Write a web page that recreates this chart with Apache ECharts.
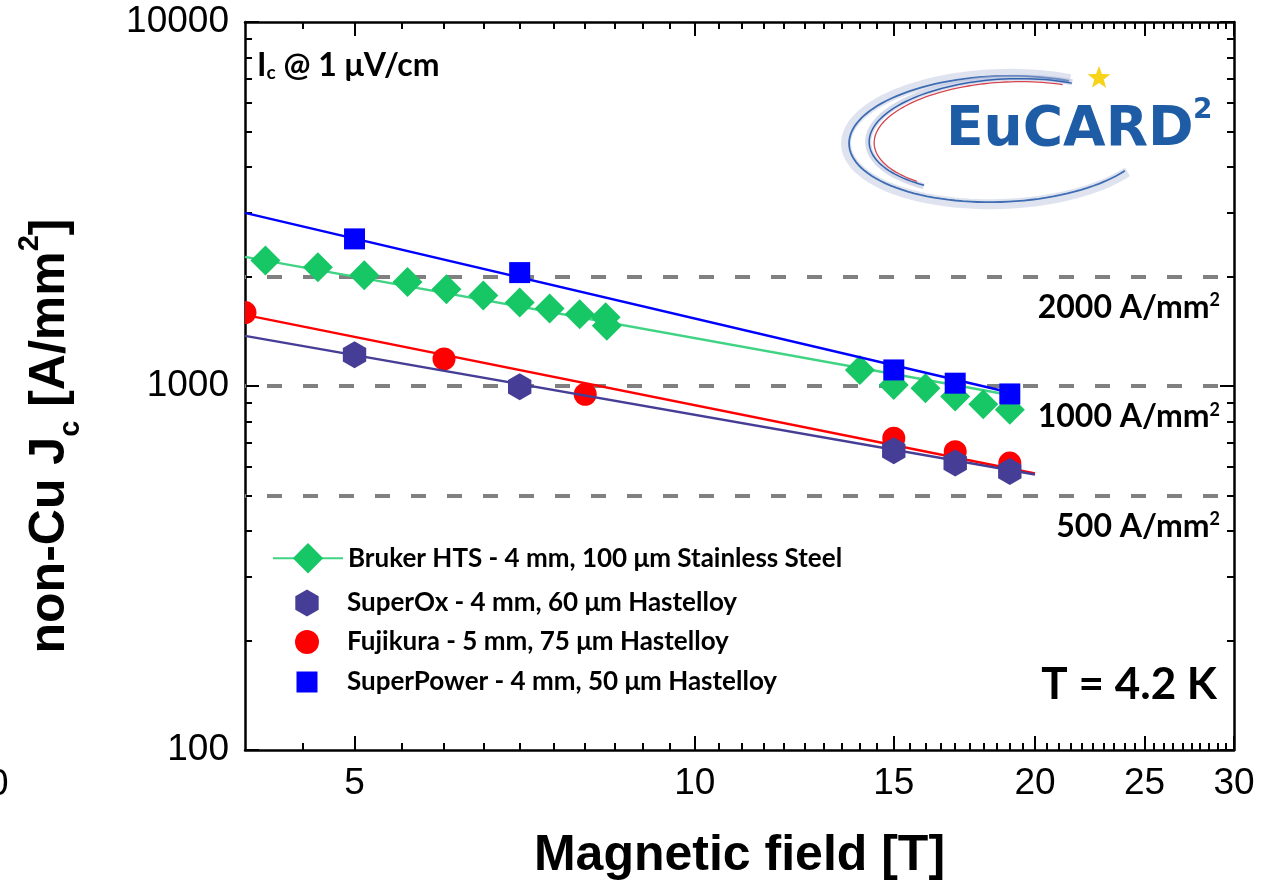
<!DOCTYPE html>
<html><head><meta charset="utf-8">
<script src="https://cdn.jsdelivr.net/npm/echarts@6/dist/echarts.min.js"></script>
<style>html,body{margin:0;padding:0;background:#fff}#c{width:1279px;height:893px}</style>
</head><body><div id="c"></div>
<script>
// ---- series names ----
const BRUKER = 'Bruker HTS - 4 mm, 100 \u03bcm Stainless Steel';
const SUPEROX = 'SuperOx - 4 mm, 60 \u03bcm Hastelloy';
const FUJI = 'Fujikura - 5 mm, 75 \u03bcm Hastelloy';
const SUPERPOWER = 'SuperPower - 4 mm, 50 \u03bcm Hastelloy';

// ---- measured points (field in T, non-Cu Jc in A/mm2) ----
const brukerField = [4.17, 4.64, 5.10, 5.57, 6.03, 6.50, 7.00, 7.44, 7.91, 8.34, 8.36, 14.0, 15.0, 16.0, 17.0, 18.0, 19.0];
const brukerJc    = [2211, 2121, 2016, 1932, 1845, 1772, 1695, 1632, 1575, 1546, 1463, 1107, 1007, 986, 935, 891, 860];
const superOxField = [5, 7, 15, 17, 19];
const superOxJc    = [1218, 996, 664, 614, 582];
const fujiField = [4, 6, 8, 15, 17, 19];
const fujiJc    = [1591, 1187, 949, 719, 660, 614];
const superPowerField = [5, 7, 15, 17, 19];
const superPowerJc    = [2536, 2049, 1107, 1018, 951];

// ---- fit lines (end points) ----
const brukerFitField = [4, 19];
const brukerFitJc    = [2263, 945];
const superPowerFitField = [4, 19];
const superPowerFitJc    = [2990, 960];
const fujiFitField = [4, 20];
const fujiFitJc    = [1568, 575];
const superOxFitField = [4, 20];
const superOxFitJc    = [1373, 571];

// ---- reference levels ----
const refLevels = [2000, 1000, 500];

// ---- ticks ----
const xMajor = [5, 10, 15, 20, 25, 30];
const xMinor = [4.5, 5.5, 6, 6.5, 7, 7.5, 8, 8.5, 9, 9.5, 10.5, 11, 11.5, 12, 12.5, 13, 13.5, 14, 14.5,
  15.5, 16, 16.5, 17, 17.5, 18, 18.5, 19, 19.5, 20.5, 21, 21.5, 22, 22.5, 23, 23.5, 24, 24.5,
  25.5, 26, 26.5, 27, 27.5, 28, 28.5, 29, 29.5];
const yMajor = [100, 1000, 10000];
const yMinor = [200, 300, 400, 500, 600, 700, 800, 900, 2000, 3000, 4000, 5000, 6000, 7000, 8000, 9000];

function pairs(xs, ys) { return xs.map((x, i) => [x, ys[i]]); }

const TICKFONT = {color: '#000', fontFamily: 'Liberation Sans', fontSize: 37};
const TITLEFONT = 'Liberation Sans';
const ANNOFONT = 'Lato';

function axisBase(kind, pos, ticks, len, showLine) {
  const a = {
    type: 'log', logBase: 10, position: pos,
    axisLine: {show: showLine, onZero: false, lineStyle: {color: '#000', width: 2.5}},
    axisTick: {show: true, inside: true, length: len, customValues: ticks, lineStyle: {color: '#000', width: 2}},
    axisLabel: {show: false},
    splitLine: {show: false}, minorTick: {show: false}, minorSplitLine: {show: false},
    silent: true, axisPointer: {show: false}
  };
  if (kind === 'x') { a.min = 4; a.max = 30; } else { a.min = 100; a.max = 10000; }
  return a;
}

const xMain = axisBase('x', 'bottom', xMajor, 14, true);
xMain.axisLabel = Object.assign({show: true, customValues: xMajor, margin: 15, formatter: v => String(v)}, TICKFONT);
xMain.name = 'Magnetic field [T]';
xMain.nameLocation = 'middle';
xMain.nameGap = 81;
xMain.nameTextStyle = {color: '#000', fontFamily: TITLEFONT, fontWeight: 'bold', fontSize: 50};

const yMain = axisBase('y', 'left', yMajor, 14, true);
yMain.axisLabel = Object.assign({show: true, customValues: yMajor, margin: 16, formatter: v => String(v)}, TICKFONT);
yMain.name = 'non-Cu J{sub|c} [A/mm{sup|2}]';
yMain.nameLocation = 'middle';
yMain.nameGap = 160;
yMain.nameTextStyle = {
  color: '#000', fontFamily: TITLEFONT, fontWeight: 'bold', fontSize: 50, lineHeight: 70,
  padding: [0, 100, 0, 0],
  rich: {
    sub: {fontFamily: TITLEFONT, fontWeight: 'bold', fontSize: 29, lineHeight: 29, verticalAlign: 'bottom', color: '#000'},
    sup: {fontFamily: TITLEFONT, fontWeight: 'bold', fontSize: 29, lineHeight: 29, verticalAlign: 'top', color: '#000'}
  }
};

const legendText = {color: '#000', fontFamily: ANNOFONT, fontWeight: 'bold', fontSize: 26};
function legendFor(name, icon, left, top, h) {
  const item = icon ? {name: name, icon: icon} : {name: name};
  return {
    data: [item], left: left, top: top, orient: 'vertical', padding: 0,
    itemWidth: 70, itemHeight: h, selectedMode: false, symbolKeepAspect: true,
    textStyle: legendText
  };
}

function ellipseArc(cx, cy, rx, ry, rotDeg, t0, t1, n) {
  const pts = [];
  const r = rotDeg * Math.PI / 180;
  for (let i = 0; i <= n; i++) {
    const t = (t0 + (t1 - t0) * i / n) * Math.PI / 180;
    const ex = rx * Math.cos(t), ey = ry * Math.sin(t);
    pts.push([cx + ex * Math.cos(r) - ey * Math.sin(r), cy + ex * Math.sin(r) + ey * Math.cos(r)]);
  }
  return pts;
}
function starPts(cx, cy, ro, ri) {
  const pts = [];
  for (let i = 0; i < 10; i++) {
    const a = -Math.PI / 2 + i * Math.PI / 5;
    const rr = i % 2 === 0 ? ro : ri;
    pts.push([cx + rr * Math.cos(a), cy + rr * Math.sin(a)]);
  }
  return pts;
}

const HEX = 'path://M0,-1L0.866,-0.5L0.866,0.5L0,1L-0.866,0.5L-0.866,-0.5Z';
const SQUARE = 'path://M-1,-1L1,-1L1,1L-1,1Z';

const option = {
  animation: false,
  backgroundColor: '#fff',
  grid: {left: 245, right: 45, top: 22, bottom: 143, containLabel: false, outerBoundsMode: 'none'},
  xAxis: [
    xMain,
    axisBase('x', 'bottom', xMinor, 7, false),
    axisBase('x', 'top', xMajor, 14, true),
    axisBase('x', 'top', xMinor, 7, false)
  ],
  yAxis: [
    yMain,
    axisBase('y', 'left', yMinor, 7, false),
    axisBase('y', 'right', yMajor, 14, true),
    axisBase('y', 'right', yMinor, 7, false)
  ],
  legend: [
    legendFor(BRUKER, null, 272, 543, 38),
    legendFor(SUPEROX, HEX, 295.3, 589.5, 27),
    legendFor(FUJI, 'circle', 295, 629, 24),
    legendFor(SUPERPOWER, SQUARE, 296.5, 669, 21)
  ],
  series: [
    {
      type: 'line', name: BRUKER, data: pairs(brukerFitField, brukerFitJc),
      showSymbol: false, symbol: 'diamond', silent: true, z: 2,
      lineStyle: {color: '#3fd383', width: 2.5}, itemStyle: {color: '#17c766'},
      markLine: {
        silent: true, symbol: ['none', 'none'], z: 1, animation: false,
        lineStyle: {color: '#808080', width: 4, type: [15, 21], dashOffset: 14},
        label: {
          show: true, position: 'insideEndBottom', distance: [14, 15],
          formatter: p => p.value + ' A/mm{sup|2}',
          color: '#000', fontFamily: ANNOFONT, fontWeight: 'bold', fontSize: 32,
          rich: {sup: {fontFamily: ANNOFONT, fontWeight: 'bold', fontSize: 18, verticalAlign: 'top', color: '#000'}}
        },
        emphasis: {disabled: true},
        data: refLevels.map(v => ({yAxis: v}))
      }
    },
    {
      type: 'scatter', name: BRUKER, data: pairs(brukerField, brukerJc), silent: true, z: 3,
      symbol: 'diamond', symbolSize: 30, itemStyle: {color: '#17c766', opacity: 1}
    },
    {
      type: 'line', name: 'SuperPower fit', data: pairs(superPowerFitField, superPowerFitJc),
      showSymbol: false, silent: true, z: 4, lineStyle: {color: '#0000ff', width: 2.5}, itemStyle: {color: '#0000ff'}
    },
    {
      type: 'custom', name: FUJI, data: pairs(fujiField, fujiJc), clip: true, silent: true, z: 5,
      itemStyle: {color: '#ff0000'},
      encode: {x: 0, y: 1},
      renderItem: function (params, api) {
        const p = api.coord([api.value(0), api.value(1)]);
        return {type: 'circle', shape: {cx: p[0], cy: p[1], r: 11.5}, style: {fill: api.visual('color')}};
      }
    },
    {
      type: 'line', name: 'Fujikura fit', data: pairs(fujiFitField, fujiFitJc),
      showSymbol: false, silent: true, z: 6, lineStyle: {color: '#ff0000', width: 2.5}, itemStyle: {color: '#ff0000'}
    },
    {
      type: 'line', name: 'SuperOx fit', data: pairs(superOxFitField, superOxFitJc),
      showSymbol: false, silent: true, z: 6, lineStyle: {color: '#463e96', width: 2.5}, itemStyle: {color: '#463e96'}
    },
    {
      type: 'scatter', name: SUPEROX, data: pairs(superOxField, superOxJc), silent: true, z: 7,
      symbol: HEX, symbolSize: [23.4, 27], itemStyle: {color: '#463e96', opacity: 1}
    },
    {
      type: 'scatter', name: SUPERPOWER, data: pairs(superPowerField, superPowerJc), silent: true, z: 8,
      symbol: 'rect', symbolSize: 21, itemStyle: {color: '#0000ff', opacity: 1}
    }
  ],
  graphic: [
    {
      type: 'text', x: 257, y: 66, silent: true,
      style: {
        text: '{m|I}{s|c}{m| @ 1 \u03bcV/cm}', verticalAlign: 'middle', align: 'left',
        rich: {
          m: {fontFamily: ANNOFONT, fontWeight: 'bold', fontSize: 32, lineHeight: 32, fill: '#000', verticalAlign: 'middle'},
          s: {fontFamily: ANNOFONT, fontWeight: 'bold', fontSize: 19, lineHeight: 19, padding: [34, 0, 0, 0], fill: '#000', verticalAlign: 'bottom'}
        }
      }
    },
    {
      type: 'text', x: 1217, y: 685, silent: true,
      style: {text: 'T = 4.2 K', align: 'right', verticalAlign: 'middle', fontFamily: ANNOFONT, fontWeight: 'bold', fontSize: 44, fill: '#000'}
    },
    {
      type: 'text', x: -12, y: 785, silent: true,
      style: {text: '0', align: 'left', verticalAlign: 'middle', fontFamily: 'Liberation Sans', fontSize: 37, fill: '#000'}
    },
    {
      type: 'group', silent: true, children: [
        {type: 'polyline', shape: {points: ellipseArc(1000, 139, 154, 65, -2, -62, -325, 90)}, style: {stroke: 'rgba(175,185,215,0.4)', lineWidth: 10, fill: null}},
        {type: 'polyline', shape: {points: ellipseArc(1000, 139, 151, 63, -2, -62, -325, 90)}, style: {stroke: '#3e6db3', lineWidth: 1.8, fill: null}},
        {type: 'polyline', shape: {points: ellipseArc(1006, 136, 138, 58, -3, -60, -232, 70)}, style: {stroke: 'rgba(165,176,212,0.45)', lineWidth: 6, fill: null}},
        {type: 'polyline', shape: {points: ellipseArc(1006, 136, 137, 57, -3, -60, -232, 70)}, style: {stroke: '#3463ae', lineWidth: 1.5, fill: null}},
        {type: 'polyline', shape: {points: ellipseArc(1007, 137, 133, 55, -3, -64, -226, 70)}, style: {stroke: '#d4454e', lineWidth: 1.3, fill: null}},
        {type: 'text', x: 946, y: 131, style: {text: 'EuCARD', align: 'left', verticalAlign: 'middle', fontFamily: 'DejaVu Sans', fontWeight: 'bold', fontSize: 55, fill: '#1f5ca6'}},
        {type: 'text', x: 1193, y: 111, style: {text: '2', align: 'left', verticalAlign: 'middle', fontFamily: 'DejaVu Sans', fontWeight: 'bold', fontSize: 28, fill: '#1f5ca6'}},
        {type: 'polygon', shape: {points: starPts(1099, 78, 12, 5)}, style: {fill: '#f7d31a'}}
      ]
    }
  ]
};
const chart = echarts.init(document.getElementById('c'), null, {renderer: 'canvas'});
chart.setOption(option);
</script>
</body></html>
